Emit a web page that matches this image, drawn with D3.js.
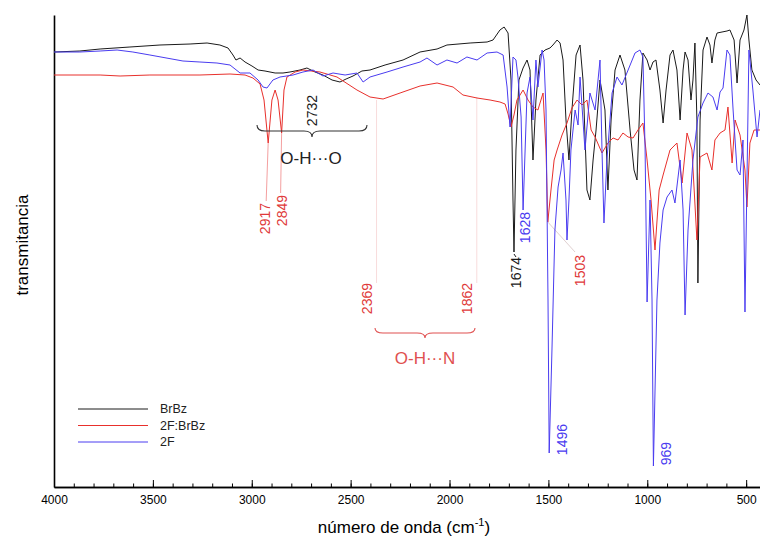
<!DOCTYPE html>
<html><head><meta charset="utf-8">
<script src="https://cdn.jsdelivr.net/npm/d3@7"></script>
<style>html,body{margin:0;padding:0;background:#fff;} svg{display:block;font-family:"Liberation Sans",Arial,sans-serif;}</style>
</head><body><svg id="c" width="760" height="543"></svg>
<script>
// [wavenumber (cm-1), transmittance (a.u.)]
const brbz = [[4000,87.0],[3869,87.2],[3767,87.6],[3616,88.0],[3464,88.4],[3312,88.6],[3226,88.8],[3161,88.4],[3120,87.8],[3095,86.4],[3080,85.4],[3059,85.8],[3034,85.0],[2999,84.2],[2968,83.4],[2933,83.2],[2882,82.8],[2842,82.8],[2807,83.0],[2756,83.4],[2721,83.8],[2680,83.0],[2640,82.4],[2594,81.4],[2554,81.0],[2523,81.6],[2488,82.2],[2443,83.2],[2402,83.4],[2326,84.4],[2235,85.4],[2149,87.0],[2063,87.6],[2013,88.4],[1896,88.8],[1810,89.0],[1780,89.4],[1745,91.4],[1724,92.0],[1704,90.8],[1689,81.4],[1679,57.4],[1674,47.0],[1664,67.4],[1649,81.4],[1628,83.8],[1608,85.4],[1593,83.4],[1578,65.4],[1563,77.4],[1542,86.4],[1517,87.4],[1492,87.8],[1477,88.4],[1456,89.4],[1441,88.8],[1426,85.4],[1411,73.4],[1396,65.4],[1381,75.4],[1360,86.4],[1340,88.4],[1325,81.4],[1305,59.4],[1290,57.4],[1274,65.4],[1259,71.4],[1239,81.4],[1214,75.4],[1199,59.4],[1183,73.4],[1163,83.4],[1138,86.4],[1113,83.4],[1087,71.4],[1067,63.4],[1052,61.4],[1037,77.4],[1022,86.8],[1001,85.4],[986,83.4],[971,85.0],[956,85.4],[936,79.4],[920,72.8],[905,79.4],[885,86.4],[870,87.4],[850,83.4],[834,73.4],[819,83.4],[809,87.0],[794,85.4],[779,77.4],[769,81.4],[759,88.8],[749,73.4],[744,40.8],[733,73.4],[718,87.4],[698,90.0],[683,88.4],[673,84.8],[658,89.4],[647,90.8],[622,91.0],[597,91.2],[582,91.4],[561,89.4],[546,80.8],[531,89.4],[511,91.4],[496,94.4],[486,89.4],[471,83.4],[450,81.4],[430,80.4]];

const cocrystal = [[4000,82.4],[3767,82.4],[3666,82.2],[3515,82.4],[3262,82.4],[3110,82.6],[3034,82.4],[2994,81.8],[2958,80.6],[2938,77.4],[2917,68.8],[2898,77.4],[2882,79.4],[2867,77.4],[2849,70.8],[2837,79.4],[2822,82.0],[2781,83.0],[2741,83.4],[2655,83.0],[2569,82.0],[2468,79.4],[2402,78.0],[2336,77.6],[2250,78.8],[2149,80.2],[2063,80.8],[1982,80.0],[1932,78.4],[1861,77.8],[1795,77.4],[1745,77.0],[1719,76.6],[1704,74.6],[1689,72.0],[1674,74.4],[1659,77.4],[1628,79.4],[1603,77.4],[1578,76.0],[1553,75.4],[1527,78.8],[1512,67.4],[1503,53.0],[1487,59.4],[1471,65.4],[1456,67.4],[1431,70.4],[1406,72.8],[1381,75.8],[1355,77.4],[1330,76.4],[1305,77.4],[1284,71.4],[1264,70.0],[1229,66.8],[1199,68.8],[1173,69.8],[1148,69.4],[1123,70.8],[1097,70.0],[1072,69.8],[1047,71.4],[1022,72.8],[1001,65.4],[981,57.4],[961,47.4],[940,59.4],[920,62.4],[885,67.4],[850,68.8],[824,60.8],[799,70.8],[774,67.4],[749,49.4],[733,66.0],[698,66.8],[673,63.4],[658,69.4],[632,70.8],[607,71.4],[592,76.0],[571,64.8],[556,73.4],[531,70.4],[506,63.4],[496,56.0],[481,68.8],[460,71.4],[430,71.4]];

const twoF = [[4000,87.0],[3869,87.0],[3767,87.2],[3681,87.4],[3601,87.0],[3515,86.4],[3348,85.2],[3262,85.0],[3176,84.8],[3110,84.4],[3059,82.8],[3009,82.8],[2968,81.4],[2943,80.0],[2923,79.8],[2893,81.4],[2857,82.0],[2791,82.4],[2741,83.0],[2690,83.4],[2640,82.2],[2589,82.8],[2528,82.4],[2468,82.8],[2437,81.0],[2402,82.0],[2316,83.0],[2235,84.0],[2149,85.0],[2114,85.8],[2063,84.4],[2013,85.4],[1962,84.8],[1912,86.0],[1861,85.4],[1810,86.8],[1760,87.0],[1729,86.4],[1709,80.0],[1694,72.0],[1679,86.0],[1664,85.4],[1654,82.0],[1638,74.0],[1628,55.4],[1608,78.8],[1593,82.0],[1578,73.4],[1563,85.4],[1553,80.0],[1532,87.4],[1522,85.4],[1512,75.4],[1502,37.4],[1496,6.8],[1482,27.4],[1467,51.4],[1451,60.0],[1436,63.4],[1426,66.8],[1411,57.4],[1406,49.4],[1396,57.4],[1386,67.4],[1365,75.4],[1350,72.4],[1340,82.0],[1315,67.4],[1290,78.8],[1264,75.4],[1239,85.4],[1229,67.4],[1219,52.8],[1204,65.4],[1178,78.8],[1153,82.0],[1128,80.4],[1097,83.4],[1062,86.8],[1037,87.4],[1022,86.0],[1011,67.4],[1001,37.0],[986,57.4],[976,37.4],[969,4.2],[951,37.4],[936,48.8],[920,55.4],[900,58.0],[875,59.4],[860,56.8],[834,65.4],[819,55.4],[809,34.4],[794,51.4],[769,65.4],[744,74.0],[718,76.8],[693,78.8],[668,78.0],[647,75.4],[632,79.0],[617,79.8],[597,87.4],[582,86.4],[566,75.4],[546,63.4],[531,62.4],[516,69.4],[506,35.0],[486,87.4],[466,79.4],[445,70.0],[430,75.4]];

const seriesNames = ["BrBz", "2F:BrBz", "2F"];
const majorTicks = [4000, 3500, 3000, 2500, 2000, 1500, 1000, 500];
const minorTicks = [4000,3900,3800,3700,3600,3500,3400,3300,3200,3100,3000,2900,2800,2700,2600,2500,2400,2300,2200,2100,2000,1900,1800,1700,1600,1500,1400,1300,1200,1100,1000,900,800,700,600,500];

const colors = ["#1a1a1a", "#e8302c", "#4a3cf0"];
const svg = d3.select("#c");
const x = d3.scaleLinear().domain([4000, 430]).range([54, 760]);
const y = d3.scaleLinear().domain([0, 94.4]).range([487, 15]);

// axes
const gx = svg.append("g").attr("transform", "translate(0,487)");
gx.call(d3.axisBottom(x).tickValues(minorTicks).tickSize(-3.5).tickSizeOuter(0).tickFormat(""));
const gx2 = svg.append("g").attr("transform", "translate(0,487)");
gx2.call(d3.axisBottom(x).tickValues(majorTicks).tickSize(-7).tickSizeOuter(0).tickPadding(8).tickFormat(d3.format("d")));
svg.selectAll(".domain").attr("stroke", "#000").attr("stroke-width", 1.6);
svg.selectAll(".tick line").attr("stroke", "#000").attr("stroke-width", 1);
gx2.selectAll(".tick text").attr("font-size", 12).attr("fill", "#000").attr("font-family", "'Liberation Sans Narrow','Liberation Sans',Arial,sans-serif");
gx.selectAll(".tick text").remove();
const gy = svg.append("g").attr("transform", "translate(54,0)");
gy.call(d3.axisLeft(y).tickValues([]).tickSizeOuter(0));
gy.select(".domain").attr("stroke", "#000").attr("stroke-width", 1.6);

// titles
const xt = svg.append("text").attr("x", 404).attr("y", 533).attr("text-anchor", "middle").attr("font-size", 17).attr("fill", "#000");
xt.append("tspan").text("número de onda (cm");
xt.append("tspan").attr("font-size", 11).attr("dy", -7).text("-1");
xt.append("tspan").attr("dy", 7).text(")");
svg.append("text").attr("transform", "translate(22,245) rotate(-90)").attr("text-anchor", "middle")
  .attr("dy", "0.35em").attr("font-size", 17).attr("fill", "#000").text("transmitancia");

// leader lines
function lead(x1, y1, x2, y2, c) {
  svg.append("line").attr("x1", x1).attr("y1", y1).attr("x2", x2).attr("y2", y2).attr("stroke", c).attr("stroke-width", 1);
}
lead(x(2917), y(68.8), x(2917) - 2, 201, "#f4a0a0");
lead(x(2849), y(70.8), x(2849) - 1, 193, "#f4a0a0");
lead(x(2369), 100, x(2369), 283, "#f8dcdc");
lead(x(1862), 97, x(1862), 283, "#f8dcdc");
lead(x(1503), y(53.0), 575, 252, "#e0d0d0");
lead(x(1674), y(47.0) + 2, x(1674) + 2, 257, "#1a1a1a");

// spectra
const line = d3.line().x(d => x(d[0])).y(d => y(d[1]));
[brbz, cocrystal, twoF].forEach((s, i) => {
  svg.append("path").datum(s).attr("d", line).attr("fill", "none")
    .attr("stroke", colors[i]).attr("stroke-width", 1).attr("stroke-linejoin", "round");
});

// braces
function brace(x1, x2, yy, h, c) {
  const xm = (x1 + x2) / 2, q = 8;
  const p = `M${x1},${yy - h} Q${x1},${yy} ${x1 + q},${yy} L${xm - q},${yy} Q${xm},${yy} ${xm},${yy + h} Q${xm},${yy} ${xm + q},${yy} L${x2 - q},${yy} Q${x2},${yy} ${x2},${yy - h}`;
  svg.append("path").attr("d", p).attr("fill", "none").attr("stroke", c).attr("stroke-width", 1.1);
}
brace(257, 367, 131, 6, "#333");
brace(375, 475, 333, 5, "#e05050");

// rotated peak labels
function vlabel(t, cx, top, c) {
  svg.append("text").attr("transform", `translate(${cx},${top}) rotate(-90)`).attr("text-anchor", "end")
    .attr("dy", "0.36em").attr("font-size", 14).attr("fill", c).text(t);
}
const red = "#e03a3a", blue = "#4a3cf0", blk = "#1a1a1a";
vlabel("2917", x(2917) - 3, 203, red);
vlabel("2849", x(2849), 195, red);
vlabel("2732", x(2732) + 7, 95, blk);
vlabel("2369", x(2369) - 10, 283, red);
vlabel("1862", x(1862) - 10, 283, red);
vlabel("1674", x(1674) + 2, 257, blk);
vlabel("1628", x(1628) + 2, 212, blue);
vlabel("1503", 580, 255, red);
vlabel("1496", x(1496) + 13, 424, blue);
vlabel("969", x(969) + 13, 442, blue);

svg.append("text").attr("x", 311).attr("y", 164).attr("text-anchor", "middle").attr("font-size", 17).attr("fill", "#222").text("O-H···O");
svg.append("text").attr("x", 425).attr("y", 364).attr("text-anchor", "middle").attr("font-size", 17).attr("fill", "#e05050").text("O-H···N");

// legend
seriesNames.forEach((n, i) => {
  const yy = 409 + i * 16.5;
  svg.append("line").attr("x1", 78).attr("x2", 148).attr("y1", yy).attr("y2", yy).attr("stroke", colors[i]).attr("stroke-width", 1);
  svg.append("text").attr("x", 160).attr("y", yy).attr("dy", "0.35em").attr("font-size", 12.5).attr("fill", "#222").text(n);
});
</script></body></html>
